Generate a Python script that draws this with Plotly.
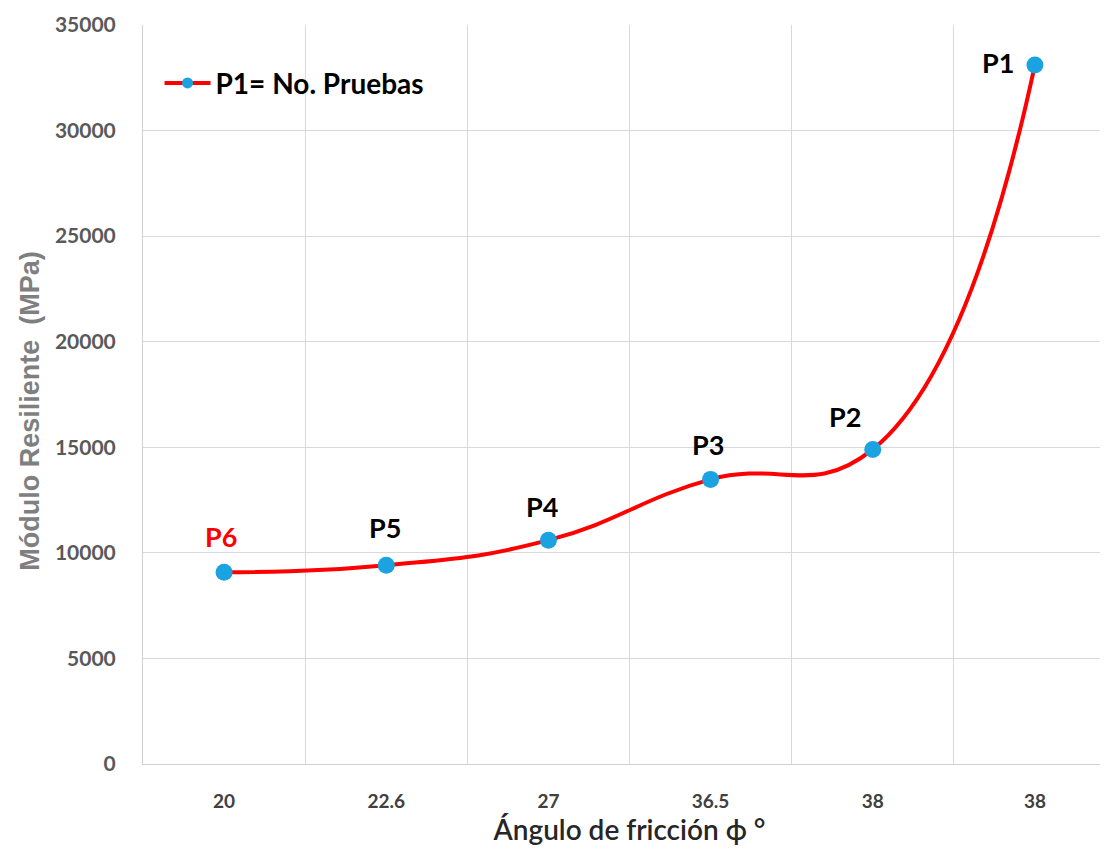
import plotly.graph_objects as go

angle_labels = ["20", "22.6", "27", "36.5", "38", "38"]
modulus_mpa = [9080, 9410, 10600, 13480, 14900, 33110]
point_names = ["P6", "P5", "P4", "P3", "P2", "P1"]
label_colors = ["#FF0000", "#000000", "#000000", "#000000", "#000000", "#000000"]
yticks = [0, 5000, 10000, 15000, 20000, 25000, 30000, 35000]

xpos = list(range(len(angle_labels)))
FONT = "Lato, Open Sans, sans-serif"

fig = go.Figure()
fig.add_trace(go.Scatter(
    x=xpos, y=modulus_mpa, mode="lines+markers",
    name="P1= No. Pruebas", showlegend=False,
    line=dict(color="#FF0000", width=4, shape="spline", smoothing=1.3),
    marker=dict(color="#1AA3E0", size=17),
))
# legend entry (smaller marker like the reference legend)
fig.add_trace(go.Scatter(
    x=[None], y=[None], mode="lines+markers", name="P1= No. Pruebas",
    line=dict(color="#FF0000", width=4),
    marker=dict(color="#1AA3E0", size=11),
))

offsets = [(-3, 36), (-1, 38), (-6, 34), (-3, 35), (-28, 33), (-37, 2)]
for xi, yi, name, col, (dx, dy) in zip(xpos, modulus_mpa, point_names, label_colors, offsets):
    fig.add_annotation(x=xi, y=yi, text="<b>" + name + "</b>", showarrow=False,
                       xshift=dx, yshift=dy,
                       font=dict(family=FONT, size=27, color=col))

# y-axis title (placed like the reference, slightly below the axis centre)
fig.add_annotation(xref="paper", yref="paper", x=0, y=0.478, xanchor="center", yanchor="middle",
                   xshift=-113, textangle=-90, showarrow=False,
                   text="<b>Módulo Resiliente  (MPa)</b>",
                   font=dict(family="Arial, Liberation Sans, sans-serif", size=27, color="#7F7F7F"))

fig.update_layout(
    width=1108, height=868,
    margin=dict(l=135, r=0, t=17, b=112),
    paper_bgcolor="white", plot_bgcolor="white",
    showlegend=True,
    legend=dict(x=0.017, y=0.955, xanchor="left", yanchor="top",
                font=dict(family=FONT, size=28, color="#000000", weight="bold"),
                bgcolor="rgba(0,0,0,0)", itemwidth=46),
    xaxis=dict(
        automargin=False,
        range=[-0.5, 5.5],
        tickmode="array", tickvals=xpos, ticktext=angle_labels,
        showgrid=False, zeroline=False,
        showline=True, linecolor="#D0D0D0", linewidth=1,
        ticks="outside", ticklen=20, tickcolor="rgba(0,0,0,0)",
        tickfont=dict(family=FONT, size=19, color="#404040", weight="bold"),
        minor=dict(tickvals=[-0.5, 0.5, 1.5, 2.5, 3.5, 4.5, 5.5], showgrid=True,
                   gridcolor="#D9D9D9", gridwidth=1, ticks=""),
        title=dict(text="Ángulo de fricción ϕ °", standoff=8,
                   font=dict(family=FONT, size=28, color="#262626", weight=600)),
    ),
    yaxis=dict(
        automargin=False,
        range=[0, 35000], tickmode="array", tickvals=yticks,
        ticktext=[str(v) for v in yticks],
        showgrid=True, gridcolor="#D9D9D9", gridwidth=1, zeroline=False,
        showline=True, linecolor="#D0D0D0", linewidth=1,
        ticks="outside", ticklen=22, tickcolor="rgba(0,0,0,0)",
        tickfont=dict(family=FONT, size=21, color="#595959", weight="bold"),
    ),
)

fig.write_html("out.html")
